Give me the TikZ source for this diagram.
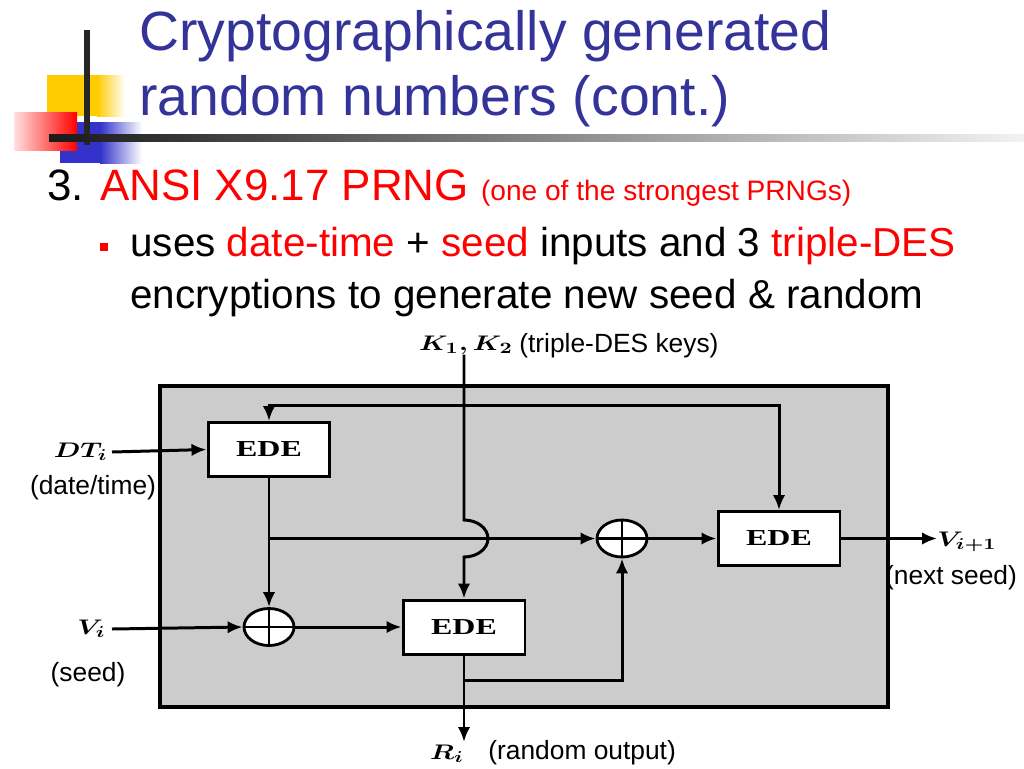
\documentclass[tikz,border=0pt]{standalone}
\usepackage{amsmath,amssymb}
\usepackage{fontspec}
\setmainfont{Liberation Sans}
\newfontfamily\edefont{Liberation Serif}
\usepackage{xcolor}
\usepackage{tikz}
\usetikzlibrary{arrows.meta,shapes.geometric,calc}
\definecolor{titleblue}{HTML}{333399}
\definecolor{hl}{HTML}{FF0000}
\definecolor{boxgray}{HTML}{CCCCCC}
\definecolor{barblue}{HTML}{3333CC}
\definecolor{baryellow}{HTML}{FFCC00}

\newcommand{\ede}{\scalebox{1.4}[1]{\edefont\bfseries EDE}}
\newcommand{\vlab}[1]{\scalebox{1.3}[1]{$\boldsymbol{#1}$}}

\begin{document}
\begin{tikzpicture}[
          x=0.02cm, y=-0.02cm,
          ede/.style={draw,fill=white,line width=1.7pt,minimum width=2.44cm,
                      minimum height=1.08cm,inner sep=0pt,font=\fontsize{13}{15}\selectfont},
          xor/.style={ellipse,draw,fill=white,line width=1.6pt,minimum width=1cm,
                      minimum height=0.74cm,inner sep=0pt,
                      path picture={\draw[line width=1.4pt]
                        (path picture bounding box.north) -- (path picture bounding box.south)
                        (path picture bounding box.west) -- (path picture bounding box.east);}},
          arr/.style={-{Latex[length=3mm,width=2.5mm]},line width=1.7pt},
          lbl/.style={font=\fontsize{15}{18}\selectfont,inner sep=0pt},
          sym/.style={font=\fontsize{13}{15}\selectfont,inner sep=0pt}
      ]
        \fill[white] (0,0) rectangle (1024,768);
        \useasboundingbox (0,0) rectangle (1024,768);

        % slide decoration
        \fill[baryellow] (47,75) rectangle (97,116);
        \shade[left color=baryellow,right color=white] (97,75) rectangle (125,116);
        \fill[barblue] (60,122) rectangle (100,163);
        \shade[left color=barblue,right color=white] (100,122) rectangle (142,163);
        \shade[left color=hl!12,right color=hl] (14,112) rectangle (77,150);
        \draw[line width=3pt,black!85] (87,30) -- (87,145);
        \shade[left color=black!90,right color=black!5] (49,134.5) rectangle (1024,141.5);

        % slide text
        \node[anchor=base west,text=titleblue,font=\fontsize{31.5}{36}\selectfont,inner sep=0pt]
          (title1) at (139,50) {Cryptographically generated};
        \node[anchor=base west,text=titleblue,font=\fontsize{31.5}{36}\selectfont,inner sep=0pt]
          (title2) at (139,115) {random numbers (cont.)};
        \node[anchor=base west,font=\fontsize{25}{30}\selectfont,inner sep=0pt] (head) at (47,200)
          {3. \textcolor{hl}{ANSI X9.17 PRNG {\fontsize{16}{19}\selectfont(one of the strongest PRNGs)}}};
        \fill[hl] (100,243) rectangle (108,251);
        \node[anchor=base west,font=\fontsize{23}{28}\selectfont,inner sep=0pt] (bul1) at (130,256)
          {uses \textcolor{hl}{date-time} + \textcolor{hl}{seed} inputs and 3 \textcolor{hl}{triple-DES}};
        \node[anchor=base west,font=\fontsize{23}{28}\selectfont,inner sep=0pt] (bul2) at (130,308)
          {encryptions to generate new seed \& random};

        % generator
        \draw[line width=1.8pt,fill=boxgray] (160,386) rectangle (888,707);

        \node[ede] (ede1) at (269,449.5) {\ede};
        \node[ede] (ede2) at (464,627) {\ede};
        \node[ede] (ede3) at (779,538.5) {\ede};
        \node[xor] (xor1) at (269,627) {};
        \node[xor] (xor2) at (622,538.5) {};

        \node[sym,anchor=east] (dt) at (108,452) {\vlab{DT_i}};
        \node[lbl] (dtnote) at (93,488) {(date/time)};
        \node[sym,anchor=east] (vi) at (106,629) {\vlab{V_i}};
        \node[lbl] (vinote) at (88,675) {(seed)};
        \node[sym,anchor=west] (vnext) at (937,542) {\vlab{V_{i+1}}};
        \node[lbl] (vnote) at (951,578) {(next seed)};
        \node[sym] (keys) at (466,345) {\vlab{K_1, K_2}};
        \node[lbl,anchor=west] (keynote) at (519,346) {(triple-DES keys)};
        \node[sym] (ri) at (447,754) {\vlab{R_i}};
        \node[lbl,anchor=west] (rnote) at (488,753) {(random output)};

        \coordinate (fb) at (464,405);
        \coordinate (hop) at (464,538.5);
        \coordinate (rtap) at (464,680);
        \coordinate (rout) at (464,742);

        \draw[arr] (fb) -| (ede1.north);
        \draw[arr] (fb) -| (ede3.north);
        \draw[arr] ($(dt.east)+(4,0)$ |- ede1.west) -- (ede1.west);
        \draw[arr] ($(vi.east)+(6,0)$ |- xor1.west) -- (xor1.west);
        \draw[arr] (ede1.south) -- (xor1.north);
        \draw[arr] (ede1.south |- xor2.west) -- (xor2.west);
        \draw[arr] (xor1.east) -- (ede2.west);
        \draw[arr] (xor2.east) -- (ede3.west);
        \draw[arr] (ede3.east) -- (vnext.west |- ede3.east);
        \draw[arr] (ede2.south) -- (rout);
        \draw[arr] (rtap) -| (xor2.south);
        \draw[arr] (keys.south -| ede2.north) -- ($(hop)+(0,-18.5)$)
          arc[start angle=-90,end angle=90,x radius=24,y radius=18.5] -- (ede2.north);
      \end{tikzpicture}
\end{document}
